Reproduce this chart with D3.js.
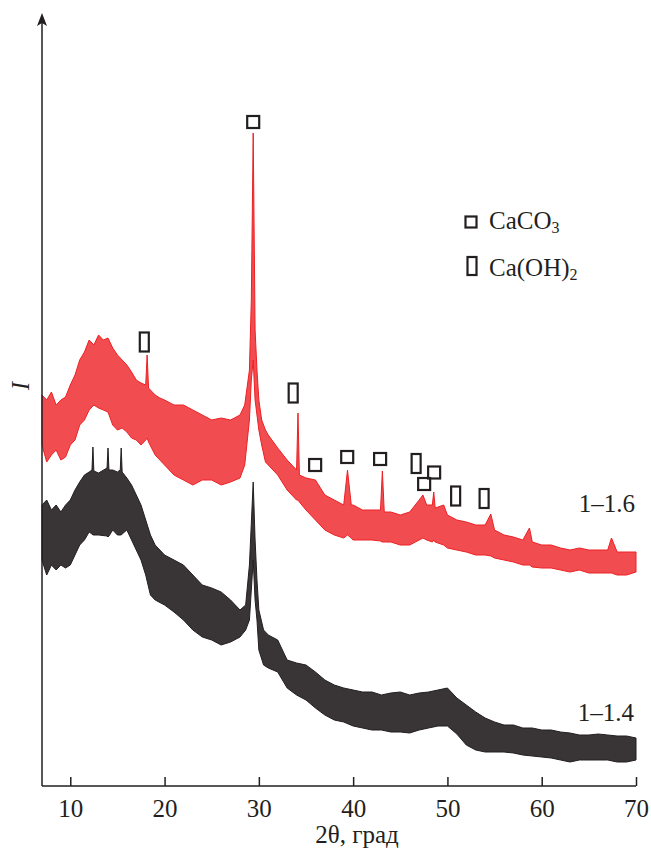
<!DOCTYPE html>
<html>
<head>
<meta charset="utf-8">
<script src="https://cdn.jsdelivr.net/npm/d3@7"></script>
<style>
    body { margin: 0; background: #fff; }
    svg { display: block; }
    .axis-line { stroke: #231f20; stroke-width: 1.5; fill: none; }
    .label { font-family: "Liberation Serif", "Times New Roman", serif; font-size: 25px; fill: #231f20; }
    .marker { fill: none; stroke: #231f20; stroke-width: 2.2; }
</style>
</head>
<body>
<svg id="chart" width="651" height="849"></svg>
<script>
// sample 2θ positions and band limits (upper / lower envelope of the noisy trace)
var redAngles = [7, 7.5, 8, 8.5, 9, 9.5, 10, 10.5, 11, 11.5, 12, 12.5, 13, 13.5, 14, 14.5, 15, 15.5, 16, 16.5,
    17, 17.5, 18, 18.15, 18.3, 19, 19.5, 20, 21, 22, 23, 24, 25, 26, 27, 28, 28.5, 29, 29.2, 29.4, 29.6, 29.8,
    30, 30.3, 30.7, 31, 32, 33, 34, 34.15, 34.3, 35, 36, 37, 38, 39, 39.4, 39.8, 40, 41, 42, 42.9, 43.1, 43.3,
    44, 45, 46, 47, 47.4, 47.8, 48.4, 48.55, 48.7, 49.6, 50, 51, 52, 53, 54, 54.6, 55, 56, 57, 58, 58.7, 59,
    60, 61, 62, 63, 64, 65, 66, 67, 67.4, 68, 69, 70];
var redUpper = [391, 386, 394, 381, 386, 389, 401, 411, 426, 434, 446, 441, 451, 446, 448, 438, 431, 426, 421, 414,
    406, 403, 401, 431, 398, 391, 388, 386, 381, 381, 376, 371, 366, 368, 366, 371, 381, 416, 486, 653, 456, 416,
    386, 366, 356, 351, 338, 326, 316, 373, 311, 308, 306, 291, 286, 281, 316, 281, 281, 276, 276, 276, 315, 274,
    274, 271, 274, 286, 291, 281, 281, 294, 278, 281, 271, 266, 264, 261, 261, 272, 256, 251, 249, 246, 258, 244,
    241, 241, 238, 236, 238, 236, 236, 236, 248, 234, 234, 234];
var redLower = [341, 324, 331, 336, 326, 329, 341, 346, 361, 366, 376, 381, 378, 376, 374, 361, 356, 358, 354, 348,
    346, 341, 346, 348, 344, 331, 326, 321, 311, 306, 301, 306, 306, 301, 304, 308, 321, 366, 406, 426, 386, 371,
    356, 341, 324, 321, 311, 296, 286, 286, 284, 276, 266, 256, 251, 248, 251, 248, 246, 246, 246, 245, 244, 244,
    244, 241, 241, 246, 248, 246, 244, 246, 244, 241, 238, 236, 234, 231, 231, 230, 228, 226, 224, 221, 221, 219,
    218, 218, 216, 214, 216, 213, 213, 213, 213, 211, 211, 214];

var blackAngles = [7, 7.5, 8, 8.5, 9, 9.5, 10, 10.5, 11, 11.5, 12, 12.3, 12.4, 12.5, 13, 13.9, 14, 14.1, 14.5, 15,
    15.3, 15.4, 15.5, 16, 16.5, 17, 17.5, 18, 18.5, 19, 20, 21, 22, 23, 24, 25, 26, 27, 28, 28.6, 29, 29.4, 29.6,
    29.8, 30, 30.5, 31, 32, 33, 34, 35, 36, 37, 38, 39, 40, 41, 42, 43, 44, 45, 46, 47, 48, 49, 50, 51, 52, 53,
    54, 55, 56, 57, 58, 59, 60, 61, 62, 63, 64, 65, 66, 67, 68, 69, 70];
var blackUpper = [281, 286, 276, 281, 274, 281, 286, 296, 304, 311, 314, 316, 339, 315, 313, 318, 338, 316, 316, 314,
    316, 338, 314, 308, 301, 291, 281, 266, 251, 241, 231, 226, 221, 211, 201, 198, 194, 186, 176, 181, 221, 304, 246,
    206, 176, 156, 151, 146, 126, 123, 121, 114, 106, 101, 98, 96, 94, 94, 91, 93, 94, 91, 93, 94, 96, 98, 88, 81, 74,
    68, 64, 61, 61, 58, 58, 56, 56, 54, 53, 51, 51, 52, 51, 50, 50, 48];
var blackLower = [226, 211, 221, 216, 221, 218, 221, 231, 241, 246, 254, 252, 251, 251, 251, 250, 249, 250, 256, 251,
    251, 251, 252, 256, 246, 236, 226, 211, 191, 186, 181, 174, 166, 156, 149, 146, 141, 144, 149, 156, 166, 226, 186,
    166, 136, 121, 118, 114, 98, 91, 86, 78, 71, 66, 64, 60, 58, 56, 56, 54, 54, 53, 56, 58, 60, 60, 52, 41, 36, 34,
    34, 34, 33, 31, 30, 29, 28, 26, 24, 26, 26, 26, 26, 24, 24, 26];

// phase marks over the peaks: 2θ and level
var caco3Angles = [29.40, 35.97, 39.37, 42.86, 47.53, 48.59];
var caco3Levels = [664, 321, 329, 327, 302, 313.5];
var caohAngles = [17.85, 33.64, 46.68, 50.87, 53.89];
var caohLevels = [444, 393, 322.5, 290, 287.5];

var xTicks = [10, 20, 30, 40, 50, 60, 70];

var svg = d3.select('#chart');
var x = d3.scaleLinear().domain([7, 70]).range([42, 636]);
var y = d3.scaleLinear().domain([0, 772]).range([786, 14]);

function zipBand(angles, upper, lower) {
    return angles.map(function(a, i) { return { a: a, hi: upper[i], lo: lower[i] }; });
}

var band = d3.area()
    .x(function(d) { return x(d.a); })
    .y0(function(d) { return y(d.lo); })
    .y1(function(d) { return y(d.hi); });

function drawTrace(data, color, opacity) {
    svg.append('path')
        .datum(data)
        .attr('d', band)
        .attr('fill', color)
        .attr('fill-opacity', opacity)
        .attr('stroke', color)
        .attr('stroke-width', 1)
        .attr('stroke-linejoin', 'round');
}

drawTrace(zipBand(redAngles, redUpper, redLower), '#ed2024', 0.8);
drawTrace(zipBand(blackAngles, blackUpper, blackLower), '#231f20', 0.9);

// axes
svg.append('line')
    .attr('class', 'axis-line')
    .attr('x1', x(7)).attr('y1', y(0))
    .attr('x2', x(70)).attr('y2', y(0));
svg.append('line')
    .attr('class', 'axis-line')
    .attr('x1', x(7)).attr('y1', y(0))
    .attr('x2', x(7)).attr('y2', 22);
svg.append('path')
    .attr('d', 'M' + x(7) + ',13 L' + (x(7) + 5) + ',26 L' + x(7) + ',23 L' + (x(7) - 5) + ',26 Z')
    .attr('fill', '#231f20');

var xAxis = d3.axisBottom(x).tickValues(xTicks).tickSize(0).tickPadding(0);
var gx = svg.append('g').attr('transform', 'translate(0,' + y(0) + ')').call(xAxis);
gx.select('.domain').remove();
gx.selectAll('.tick text').remove();
gx.selectAll('.tick line')
    .attr('y2', -9)
    .attr('stroke', '#231f20')
    .attr('stroke-width', 1.5);
gx.selectAll('.tick').append('text')
    .attr('class', 'label')
    .attr('y', 31)
    .attr('text-anchor', 'middle')
    .text(function(d) { return d; });

svg.append('text')
    .attr('class', 'label')
    .attr('x', 357)
    .attr('y', 843)
    .attr('text-anchor', 'middle')
    .text('2θ, град');

svg.append('text')
    .attr('class', 'label')
    .attr('transform', 'translate(29,386) rotate(-90)')
    .attr('text-anchor', 'middle')
    .attr('font-style', 'italic')
    .text('I');

// peak marks
svg.selectAll('.caco3')
    .data(caco3Angles)
    .enter().append('rect')
    .attr('class', 'marker caco3')
    .attr('x', function(d) { return x(d) - 6; })
    .attr('y', function(d, i) { return y(caco3Levels[i]) - 6; })
    .attr('width', 12)
    .attr('height', 12);

svg.selectAll('.caoh')
    .data(caohAngles)
    .enter().append('rect')
    .attr('class', 'marker caoh')
    .attr('x', function(d) { return x(d) - 4.5; })
    .attr('y', function(d, i) { return y(caohLevels[i]) - 9.5; })
    .attr('width', 9)
    .attr('height', 19);

// legend
svg.append('rect').attr('class', 'marker')
    .attr('x', 465.5).attr('y', 216.5).attr('width', 11).attr('height', 11);
var t1 = svg.append('text').attr('class', 'label').attr('x', 489).attr('y', 229);
t1.append('tspan').text('CaCO');
t1.append('tspan').attr('font-size', '16px').attr('dy', 4).text('3');

svg.append('rect').attr('class', 'marker')
    .attr('x', 467.5).attr('y', 257).attr('width', 9).attr('height', 18);
var t2 = svg.append('text').attr('class', 'label').attr('x', 489).attr('y', 276);
t2.append('tspan').text('Ca(OH)');
t2.append('tspan').attr('font-size', '16px').attr('dy', 4).text('2');

// sample labels
svg.append('text').attr('class', 'label')
    .attr('x', 635).attr('y', 512).attr('text-anchor', 'end')
    .text('1–1.6');
svg.append('text').attr('class', 'label')
    .attr('x', 634).attr('y', 721).attr('text-anchor', 'end')
    .text('1–1.4');
</script>
</body>
</html>
